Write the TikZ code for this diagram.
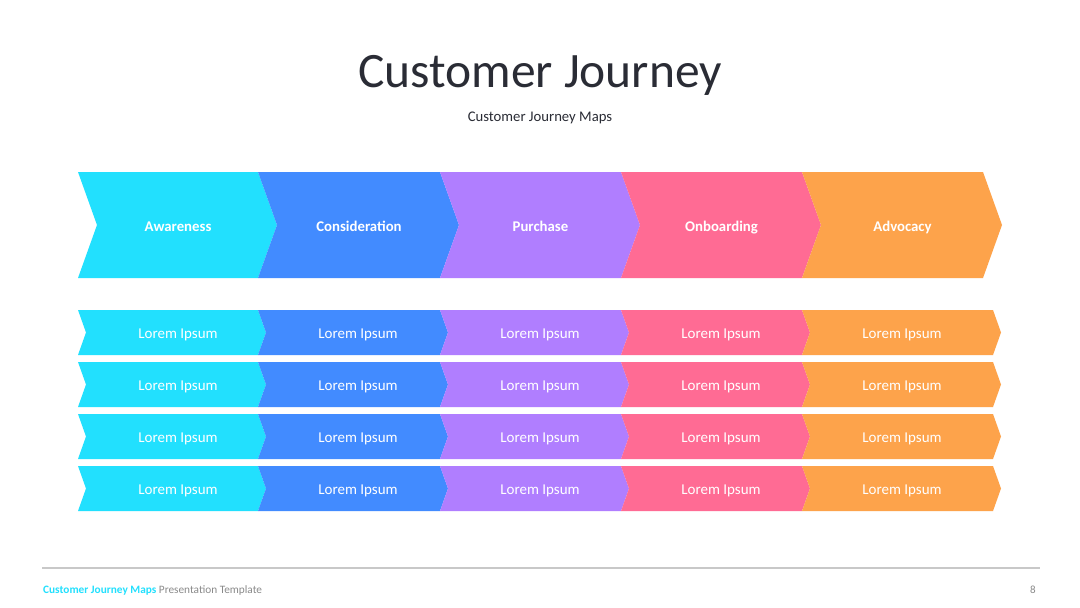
\documentclass[tikz,border=0pt]{standalone}
\usepackage{fontspec}
\setmainfont{Carlito}
\definecolor{ccyan}{HTML}{22E0FE}
\definecolor{cblue}{HTML}{428BFF}
\definecolor{cpurple}{HTML}{B07EFF}
\definecolor{cpink}{HTML}{FF6B94}
\definecolor{corange}{HTML}{FDA34B}
\definecolor{ctitle}{HTML}{2A2C35}
\definecolor{cgrayline}{HTML}{C8C8C8}
\definecolor{cgraytext}{HTML}{8A8A8A}
\tikzset{
  biglabel/.style={text=white, font=\fontsize{14.8}{17}\selectfont\bfseries, inner sep=0pt, anchor=base},
  smalllabel/.style={text=white, font=\fontsize{15}{17}\selectfont, inner sep=0pt},
}
\begin{document}
\begin{tikzpicture}[x=1pt,y=-1pt]
\useasboundingbox (0,0) rectangle (1080,608);
\fill[white] (0,0) rectangle (1080,608);
\node[text=ctitle, font=\fontsize{49.5}{56}\selectfont, inner sep=0pt] (title) at (540,75) {Customer Journey};
\node[text=ctitle, font=\fontsize{14.7}{17}\selectfont, inner sep=0pt] (subtitle) at (540,118) {Customer Journey Maps};
% big chevrons
\def\lefts{{78,258,440,621,802}}
\def\rights{{258,440,621,802,983}}
\foreach \i/\col/\lab in {0/ccyan/Awareness,1/cblue/Consideration,2/cpurple/Purchase,3/cpink/Onboarding,4/corange/Advocacy}{
  \pgfmathsetmacro{\xl}{\lefts[\i]}
  \pgfmathsetmacro{\xr}{\rights[\i]}
  \fill[\col] (\xl,172) -- (\xr,172) -- (\xr+19,225) -- (\xr,278) -- (\xl,278) -- (\xl+19,225) -- cycle;
  \node[biglabel] (big\i) at ({(\xl+\xr)/2+10},231) {\lab};
}
% small chevrons
\def\srights{{258,440,621,802,993}}
\foreach \r/\yt in {0/310,1/362,2/414,3/466}{
  \foreach \i/\col in {0/ccyan,1/cblue,2/cpurple,3/cpink,4/corange}{
    \pgfmathsetmacro{\xl}{\lefts[\i]}
    \pgfmathsetmacro{\xr}{\srights[\i]}
    \fill[\col] (\xl,\yt) -- (\xr,\yt) -- (\xr+8,\yt+22.5) -- (\xr,\yt+45) -- (\xl,\yt+45) -- (\xl+8,\yt+22.5) -- cycle;
    \node[smalllabel] (s\r\i) at ({\lefts[\i]+100},\yt+24.5) {Lorem Ipsum};
  }
}
% footer
\draw[cgrayline, line width=1.5pt] (42,568) -- (1040,568);
\node[anchor=west, inner sep=0pt, font=\fontsize{11.3}{13}\selectfont] (foot) at (43,590) {\textcolor{ccyan}{\bfseries Customer Journey Maps} \textcolor{cgraytext}{Presentation Template}};
\node[anchor=east, inner sep=0pt, text=cgraytext, font=\fontsize{11}{13}\selectfont] (page) at (1036,590) {8};
\end{tikzpicture}
\end{document}
